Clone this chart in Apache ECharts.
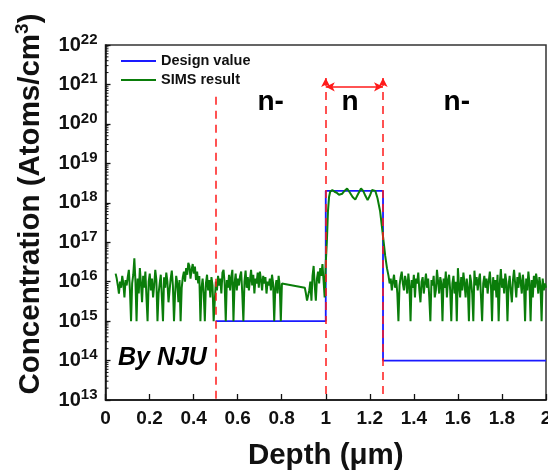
<!DOCTYPE html>
<html><head><meta charset="utf-8">
<script src="https://cdn.jsdelivr.net/npm/echarts@6/dist/echarts.min.js"></script>
<style>html,body{margin:0;padding:0;background:#fff}#c{width:548px;height:473px}</style>
</head><body><div id="c"></div>
<script>
// ---------- data ----------
const xTickValues = [0, 0.2, 0.4, 0.6, 0.8, 1, 1.2, 1.4, 1.6, 1.8, 2];
const yDecades = [13, 14, 15, 16, 17, 18, 19, 20, 21, 22];

// Design value (step profile)
const designDepth = [0.5, 1.0, 1.0, 1.26, 1.26, 2.0];
const designConc  = [1e15, 1e15, 2e18, 2e18, 1e14, 1e14];

// SIMS result, noisy segments sampled every 0.005 µm (values in units of 1e15 atoms/cm3)
const simsUnit = 1e15;
const simsStep = 0.005;
const simsLeftStart = 0.046;
const simsLeft = [
  16, 12, 8, 5, 10, 7, 14, 9, 4, 11,
  8, 13, 20, 6, 1, 9, 15, 39, 10, 1,
  12, 5, 22, 9, 3, 14, 7, 18, 4, 1,
  10, 16, 6, 12, 4, 8, 20, 11, 1, 5,
  9, 15, 4, 1, 13, 7, 17, 10, 3, 6,
  12, 19, 8, 1, 5, 14, 9, 3, 11, 1,
  7, 13, 18, 10, 22, 15, 30, 25, 12, 20,
  28, 16, 24, 11, 18, 9, 14, 1, 7, 12,
  5, 1, 9, 15, 6, 11, 4, 13, 8, 1,
  1, 10, 6, 14, 8, 12, 5, 17, 20, 9,
  1, 11, 7, 15, 6, 13, 20, 1, 9, 16,
  6, 12, 8, 14, 18, 5, 1, 10, 19, 7,
  13, 6, 11, 20, 8, 15, 5, 12, 9, 17,
  7, 18, 11, 6, 14, 9, 13, 5, 10, 8,
  12, 6, 15, 9, 1, 7, 11, 5, 14, 8,
  1, 9, 10
];
const simsMidStart = 0.905;
const simsMid = [7, 5, 3.3, 3.3, 6, 10, 3.3, 14, 25, 8, 3.3, 12, 18, 9, 22, 14, 28, 11, 4];
// n-layer peak (explicit depths, atoms/cm3)
const simsPeakDepth = [1.000, 1.005, 1.010, 1.015, 1.020, 1.030, 1.040, 1.050, 1.060, 1.066, 1.075, 1.085, 1.097, 1.110, 1.122, 1.134, 1.145, 1.160, 1.170, 1.180, 1.190, 1.200, 1.210, 1.216, 1.225, 1.235, 1.247, 1.255, 1.263, 1.270, 1.278];
const simsPeakConc  = [3e16, 1e17, 6e17, 1.4e18, 1.9e18, 2.1e18, 1.9e18, 1.8e18, 1.6e18, 1.5e18, 1.7e18, 2.0e18, 2.3e18, 1.8e18, 1.4e18, 1.2e18, 1.6e18, 2.3e18, 2.0e18, 1.5e18, 1.17e18, 1.5e18, 2.1e18, 2.3e18, 2.0e18, 1.3e18, 6e17, 2.5e17, 1e17, 4.5e16, 2.2e16];
const simsRightStart = 1.285;
const simsRight = [
  14, 9, 12, 6, 10, 15, 7, 11, 5, 1,
  8, 13, 18, 9, 6, 14, 10, 5, 16, 8,
  1, 11, 7, 15, 4, 12, 9, 17, 6, 3,
  10, 13, 5, 9, 16, 7, 12, 4, 1, 11,
  8, 14, 4, 6, 20, 10, 5, 13, 9, 1,
  12, 7, 18, 4, 11, 15, 6, 1, 9, 14,
  5, 10, 1, 22, 8, 4, 13, 6, 17, 9,
  4, 12, 7, 1, 15, 10, 5, 1, 19, 8,
  13, 6, 11, 16, 4, 1, 9, 14, 7, 12,
  5, 10, 18, 8, 1, 13, 6, 11, 4, 15,
  1, 9, 21, 7, 12, 5, 16, 10, 1, 8,
  14, 6, 3, 11, 20, 9, 4, 13, 7, 17,
  10, 5, 15, 8, 1, 12, 6, 18, 9, 1,
  11, 4, 14, 7, 16, 10, 5, 13, 8, 1,
  12, 6, 9, 7
];

// annotations
const regionNames = ['n-', 'n', 'n-'];
const regionDepth = [0.75, 1.11, 1.595];
const regionConc = 3.6e20;
const boundaryDepth = [0.5, 1.0, 1.26];
const boundaryTop = [4.9e20, 1.45e21, 1.45e21];
const arrowConc = 8.7e20;

// ---------- build ----------
const FONT = '"Liberation Sans", Arial, sans-serif';
const designData = designDepth.map((d, i) => [d, designConc[i]]);
const simsData = [];
simsLeft.forEach((v, i) => simsData.push([+(simsLeftStart + i * simsStep).toFixed(3), v * simsUnit]));
simsMid.forEach((v, i) => simsData.push([+(simsMidStart + i * simsStep).toFixed(3), v * simsUnit]));
simsPeakDepth.forEach((d, i) => simsData.push([d, simsPeakConc[i]]));
simsRight.forEach((v, i) => simsData.push([+(simsRightStart + i * simsStep).toFixed(3), v * simsUnit]));

const minorTicks = [];
for (let d = yDecades[0]; d < yDecades[yDecades.length - 1]; d++) {
  for (let k = 2; k <= 9; k++) minorTicks.push([0, k * Math.pow(10, d)]);
}

const markLines = [];
boundaryDepth.forEach((d, i) => {
  markLines.push([
    { coord: [d, boundaryTop[i]], symbol: i === 0 ? 'none' : 'arrow', symbolSize: [7, 9] },
    { coord: [d, 1e13], symbol: 'none' }
  ]);
});
const arrowLine = [[
  { coord: [boundaryDepth[1], arrowConc], symbol: 'arrow', symbolSize: [7, 9] },
  { coord: [boundaryDepth[2], arrowConc], symbol: 'arrow', symbolSize: [7, 9] }
]];

const chart = echarts.init(document.getElementById('c'), null, { renderer: 'canvas' });
chart.setOption({
  animation: false,
  backgroundColor: '#fff',
  grid: { left: 105.5, right: 2, top: 45, bottom: 73, outerBoundsMode: 'none', containLabel: false, show: true, borderColor: '#333', borderWidth: 1.5, backgroundColor: 'transparent' },
  legend: {
    data: [
      { name: 'Design value', icon: 'rect', itemStyle: { color: '#1a1aff' } },
      { name: 'SIMS result', icon: 'rect', itemStyle: { color: '#0a7d0a' } }
    ],
    orient: 'vertical', left: 121, top: 53.5, padding: 0,
    itemWidth: 35, itemHeight: 2, itemGap: 4,
    textStyle: { fontFamily: FONT, fontWeight: 'bold', fontSize: 14.5, color: '#111' }
  },
  xAxis: {
    type: 'value', min: 0, max: 2, interval: 0.2,
    axisLine: { lineStyle: { color: '#111', width: 1.5 } },
    axisTick: { inside: true, length: 6, lineStyle: { color: '#111', width: 1.3 } },
    axisLabel: { margin: 9, fontFamily: FONT, fontWeight: 'bold', fontSize: 19, color: '#111' },
    splitLine: { show: false },
    name: 'Depth (μm)', nameLocation: 'middle', nameGap: 41,
    nameTextStyle: { fontFamily: FONT, fontWeight: 'bold', fontSize: 29.5, color: '#111' }
  },
  yAxis: {
    type: 'log', logBase: 10, min: 1e13, max: 1e22, splitNumber: 9,
    axisLine: { lineStyle: { color: '#111', width: 1.5 } },
    axisTick: { inside: true, length: 5, lineStyle: { color: '#111', width: 1.3 } },
    splitLine: { show: false },
    axisLabel: {
      margin: 8,
      formatter: v => '{b|10}{s|' + Math.round(Math.log10(v)) + '}',
      rich: {
        b: { fontFamily: FONT, fontWeight: 'bold', fontSize: 20, lineHeight: 20, color: '#111', verticalAlign: 'bottom' },
        s: { fontFamily: FONT, fontWeight: 'bold', fontSize: 15, lineHeight: 15, color: '#111', verticalAlign: 'bottom', padding: [0, 0, 8, 0] }
      }
    }
  },
  graphic: [
    {
      type: 'text', x: 30, y: 204, rotation: Math.PI / 2, z: 10,
      style: {
        text: '{a|Concentration (Atoms/cm}{s|3}{a|)}',
        align: 'center', verticalAlign: 'middle',
        rich: {
          a: { fontFamily: FONT, fontWeight: 'bold', fontSize: 29.5, lineHeight: 31, fill: '#111', verticalAlign: 'bottom' },
          s: { fontFamily: FONT, fontWeight: 'bold', fontSize: 19, lineHeight: 19, fill: '#111', verticalAlign: 'bottom', padding: [0, 0, 13, 0] }
        }
      }
    },
    {
      type: 'text', left: 118, top: 346, z: 10,
      style: { text: 'By NJU', font: 'italic bold 25px ' + FONT, fill: '#000' }
    }
  ],
  series: [
    {
      name: 'Design value', type: 'line', data: designData, symbol: 'none', z: 2,
      lineStyle: { color: '#1a1aff', width: 1.8 }, itemStyle: { color: '#1a1aff' }
    },
    {
      name: 'SIMS result', type: 'line', data: simsData, symbol: 'none', z: 3,
      lineStyle: { color: '#0a7d0a', width: 2 }, itemStyle: { color: '#0a7d0a' }
    },
    {
      name: 'minor', type: 'custom', data: minorTicks, z: 4, silent: true, clip: false,
      renderItem: (params, api) => {
        const p = api.coord([0, api.value(1)]);
        return { type: 'line', shape: { x1: p[0], y1: p[1], x2: p[0] + 3, y2: p[1] }, style: { stroke: '#111', lineWidth: 1 } };
      }
    },
    {
      name: 'boundaries', type: 'line', data: [], z: 5, silent: true,
      markLine: {
        silent: true, animation: false, label: { show: false },
        lineStyle: { color: '#ff1a1a', width: 1.5, type: [8, 6] },
        emphasis: { disabled: true },
        data: markLines
      }
    },
    {
      name: 'arrow', type: 'line', data: [], z: 5, silent: true,
      markLine: {
        silent: true, animation: false, label: { show: false },
        lineStyle: { color: '#ff1a1a', width: 1.5, type: 'solid' },
        emphasis: { disabled: true },
        data: arrowLine
      }
    },
    {
      name: 'regions', type: 'scatter', z: 6, silent: true,
      symbolSize: 1, itemStyle: { color: 'rgba(0,0,0,0)', opacity: 1 },
      data: regionNames.map((n, i) => ({ name: n, value: [regionDepth[i], regionConc] })),
      label: {
        show: true, position: 'inside', formatter: p => p.name, opacity: 1,
        fontFamily: FONT, fontWeight: 'bold', fontSize: 28, color: '#000', textBorderWidth: 0
      }
    }
  ]
});
</script></body></html>
